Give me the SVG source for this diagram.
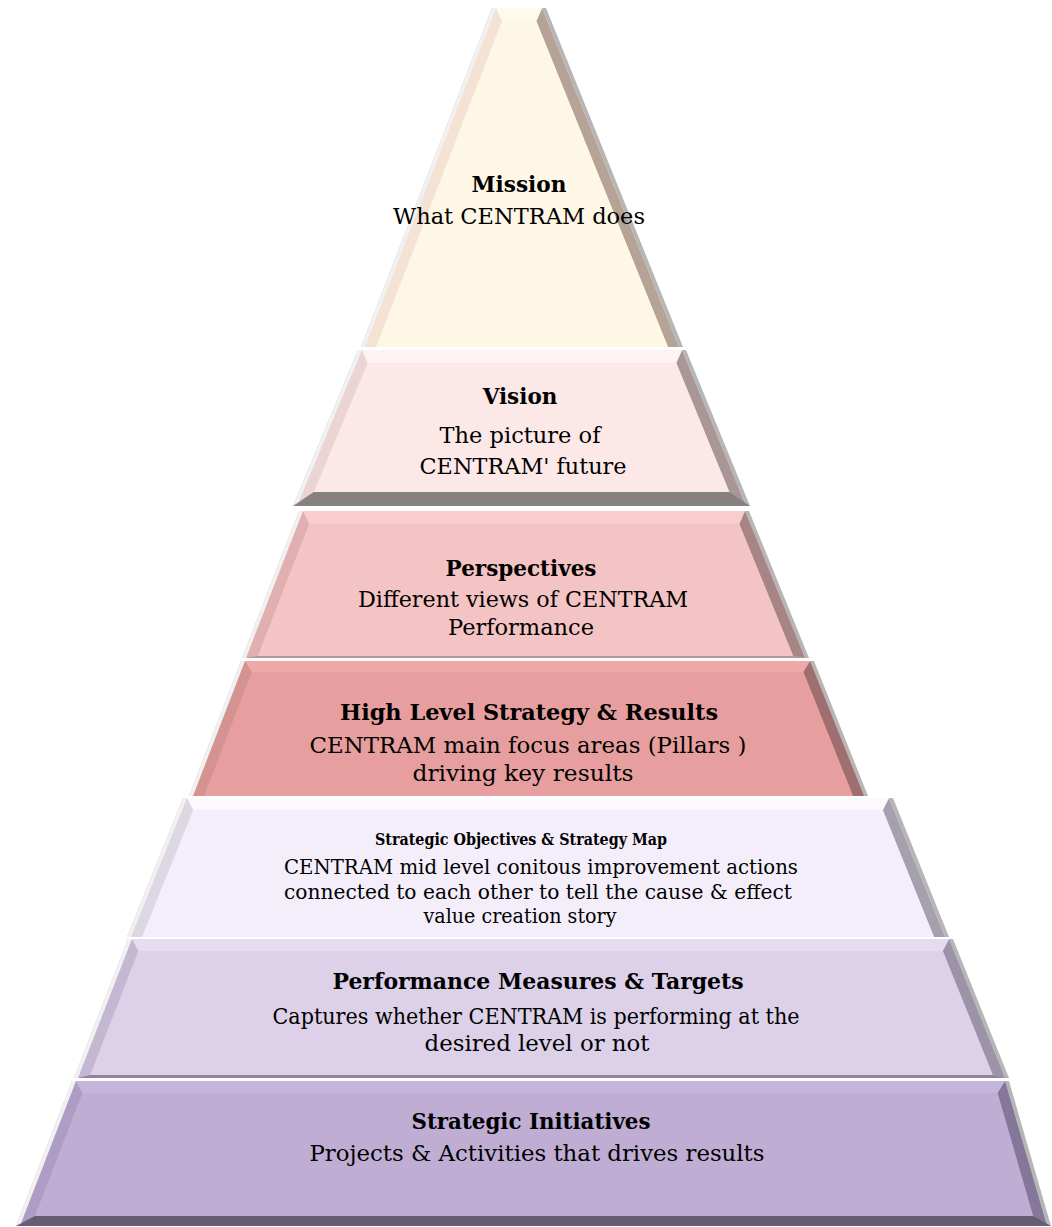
<svg xmlns="http://www.w3.org/2000/svg" width="1052" height="1227" viewBox="0 0 1052 1227">
  <style>
    .t { font-family: "DejaVu Serif", "Liberation Serif", serif; fill: #000; text-anchor: middle; }
    .h { font-weight: bold; font-size: 21.5px; }
    .b { font-size: 22.5px; }
    .hs { font-weight: bold; font-size: 16.5px; }
    .bs { font-size: 19.5px; }
    .fr { fill: #b6b6b6; }
    .fl { fill: #f1f1f1; }
  </style>
  <rect width="1052" height="1227" fill="#ffffff"/>

  <!-- Layer 1: Mission -->
  <g id="mission">
    <polygon class="fr" points="492,8 546,8 683,347 361,347"/>
    <polygon class="fl" points="492,8 542,8 679,347 361,347"/>
    <polygon fill="#f4e2d4" points="496,8 542,8 679,347 365,347"/>
    <polygon fill="#b4a396" points="542,8 679,347 668,347 536.3,21"/>
    <polygon fill="#fffbeb" points="496,8 542,8 536.3,21 502,21"/>
    <polygon fill="#fef7e5" points="502,21 536.3,21 668,347 376,347"/>
    <text class="t h" x="519" y="192" textLength="95" lengthAdjust="spacingAndGlyphs">Mission</text>
    <text class="t b" x="519" y="224" textLength="252" lengthAdjust="spacingAndGlyphs">What CENTRAM does</text>
  </g>

  <!-- Layer 2: Vision -->
  <g id="vision">
    <polygon class="fr" points="358,350 686,350 750,506 293,506"/>
    <polygon class="fl" points="358,350 682,350 746,506 293,506"/>
    <polygon fill="#ead4d4" points="362,350 682,350 746,506 297,506"/>
    <polygon fill="#a99797" points="682,350 746,506 729.3,492 676.3,363"/>
    <polygon fill="#fff2f2" points="362,350 682,350 676.3,363 367.6,363"/>
    <polygon fill="#878080" points="293,506 750,506 729.3,492 313.8,492"/>
    <polygon fill="#fde8e8" points="367.6,363 676.3,363 729.3,492 313.8,492"/>
    <text class="t h" x="520" y="404">Vision</text>
    <text class="t b" x="520" y="443" textLength="161" lengthAdjust="spacingAndGlyphs">The picture of</text>
    <text class="t b" x="523" y="474" textLength="207" lengthAdjust="spacingAndGlyphs">CENTRAM' future</text>
  </g>

  <!-- Layer 3: Perspectives -->
  <g id="perspectives">
    <polygon class="fr" points="299,511 749,511 809,658 242,658"/>
    <polygon class="fl" points="299,511 745,511 805,658 242,658"/>
    <polygon fill="#e0afaf" points="303,511 745,511 805,658 246,658"/>
    <polygon fill="#a88585" points="745,511 805,658 793.2,656 739.3,524"/>
    <polygon fill="#f9cdcd" points="303,511 745,511 739.3,524 309,524"/>
    <polygon fill="#b59595" points="246,658 805,658 793.2,656 257.8,656"/>
    <polygon fill="#f4c3c3" points="309,524 739.3,524 793.2,656 257.8,656"/>
    <text class="t h" x="521" y="576">Perspectives</text>
    <text class="t b" x="523" y="607" textLength="330" lengthAdjust="spacingAndGlyphs">Different views of CENTRAM</text>
    <text class="t b" x="521" y="635">Performance</text>
  </g>

  <!-- Layer 4: High Level Strategy & Results -->
  <g id="high-level">
    <polygon class="fr" points="241,661 814,661 868,796 189,796"/>
    <polygon class="fl" points="241,661 810,661 864,796 189,796"/>
    <polygon fill="#d49291" points="245,661 810,661 864,796 193,796"/>
    <polygon fill="#9f6e6e" points="810,661 864,796 853,796 803.4,672"/>
    <polygon fill="#eca9a8" points="245,661 810,661 803.4,672 251.8,672"/>
    <polygon fill="#e69f9e" points="251.8,672 803.4,672 853,796 204,796"/>
    <text class="t h" x="529" y="720" textLength="378" lengthAdjust="spacingAndGlyphs">High Level Strategy &amp; Results</text>
    <text class="t b" x="528" y="753" textLength="437" lengthAdjust="spacingAndGlyphs">CENTRAM main focus areas (Pillars )</text>
    <text class="t b" x="523" y="781" textLength="221" lengthAdjust="spacingAndGlyphs">driving key results</text>
  </g>

  <!-- Layer 5: Strategic Objectives & Strategy Map -->
  <g id="strategic-objectives">
    <polygon class="fr" points="183,798 893,798 949,937 127,937"/>
    <polygon class="fl" points="183,798 889,798 945,937 127,937"/>
    <polygon fill="#ddd7e3" points="187,798 889,798 945,937 131,937"/>
    <polygon fill="#a69fae" points="889,798 945,937 934,937 882.8,810"/>
    <polygon fill="#fcf9fe" points="187,798 889,798 882.8,810 193.2,810"/>
    <polygon fill="#f3eef9" points="193.2,810 882.8,810 934,937 142,937"/>
    <text class="t hs" x="521" y="845" textLength="292" lengthAdjust="spacingAndGlyphs">Strategic Objectives &amp; Strategy Map</text>
    <text class="t bs" x="541" y="874" textLength="514" lengthAdjust="spacingAndGlyphs">CENTRAM mid level conitous improvement actions</text>
    <text class="t bs" x="538" y="899" textLength="508" lengthAdjust="spacingAndGlyphs">connected to each other to tell the cause &amp; effect</text>
    <text class="t bs" x="520" y="923" textLength="193" lengthAdjust="spacingAndGlyphs">value creation story</text>
  </g>

  <!-- Layer 6: Performance Measures & Targets -->
  <g id="performance-measures">
    <polygon class="fr" points="128,939 953,939 1009,1078 74,1078"/>
    <polygon class="fl" points="128,939 949,939 1005,1078 74,1078"/>
    <polygon fill="#c3b7d1" points="132,939 949,939 1005,1078 78,1078"/>
    <polygon fill="#9d93a9" points="949,939 1005,1078 992.8,1075 942.8,951"/>
    <polygon fill="#e6dcf0" points="132,939 949,939 942.8,951 138.3,951"/>
    <polygon fill="#8e8599" points="78,1078 1005,1078 992.8,1075 90.2,1075"/>
    <polygon fill="#dcd1e8" points="138.3,951 942.8,951 992.8,1075 90.2,1075"/>
    <text class="t h" x="538" y="989" textLength="411" lengthAdjust="spacingAndGlyphs">Performance Measures &amp; Targets</text>
    <text class="t b" x="536" y="1024" textLength="527" lengthAdjust="spacingAndGlyphs">Captures whether CENTRAM is performing at the</text>
    <text class="t b" x="537" y="1051" textLength="225" lengthAdjust="spacingAndGlyphs">desired level or not</text>
  </g>

  <!-- Layer 7: Strategic Initiatives -->
  <g id="strategic-initiatives">
    <polygon class="fr" points="72,1081 1009,1081 1051,1226 16,1226"/>
    <polygon class="fl" points="72,1081 1005,1081 1047,1226 16,1226"/>
    <polygon fill="#ae9cc4" points="76,1081 1005,1081 1047,1226 20,1226"/>
    <polygon fill="#85779a" points="1005,1081 1047,1226 1033.1,1216 997.5,1093"/>
    <polygon fill="#c6b5da" points="76,1081 1005,1081 997.5,1093 82.4,1093"/>
    <polygon fill="#675d72" points="16,1226 1051,1226 1033.1,1216 34.9,1216"/>
    <polygon fill="#bfadd4" points="82.4,1093 997.5,1093 1033.1,1216 34.9,1216"/>
    <text class="t h" x="531" y="1129" textLength="239" lengthAdjust="spacingAndGlyphs">Strategic Initiatives</text>
    <text class="t b" x="537" y="1161" textLength="455" lengthAdjust="spacingAndGlyphs">Projects &amp; Activities that drives results</text>
  </g>

  <!-- no connectors in this chart -->
  <g id="connectors"/>
</svg>
